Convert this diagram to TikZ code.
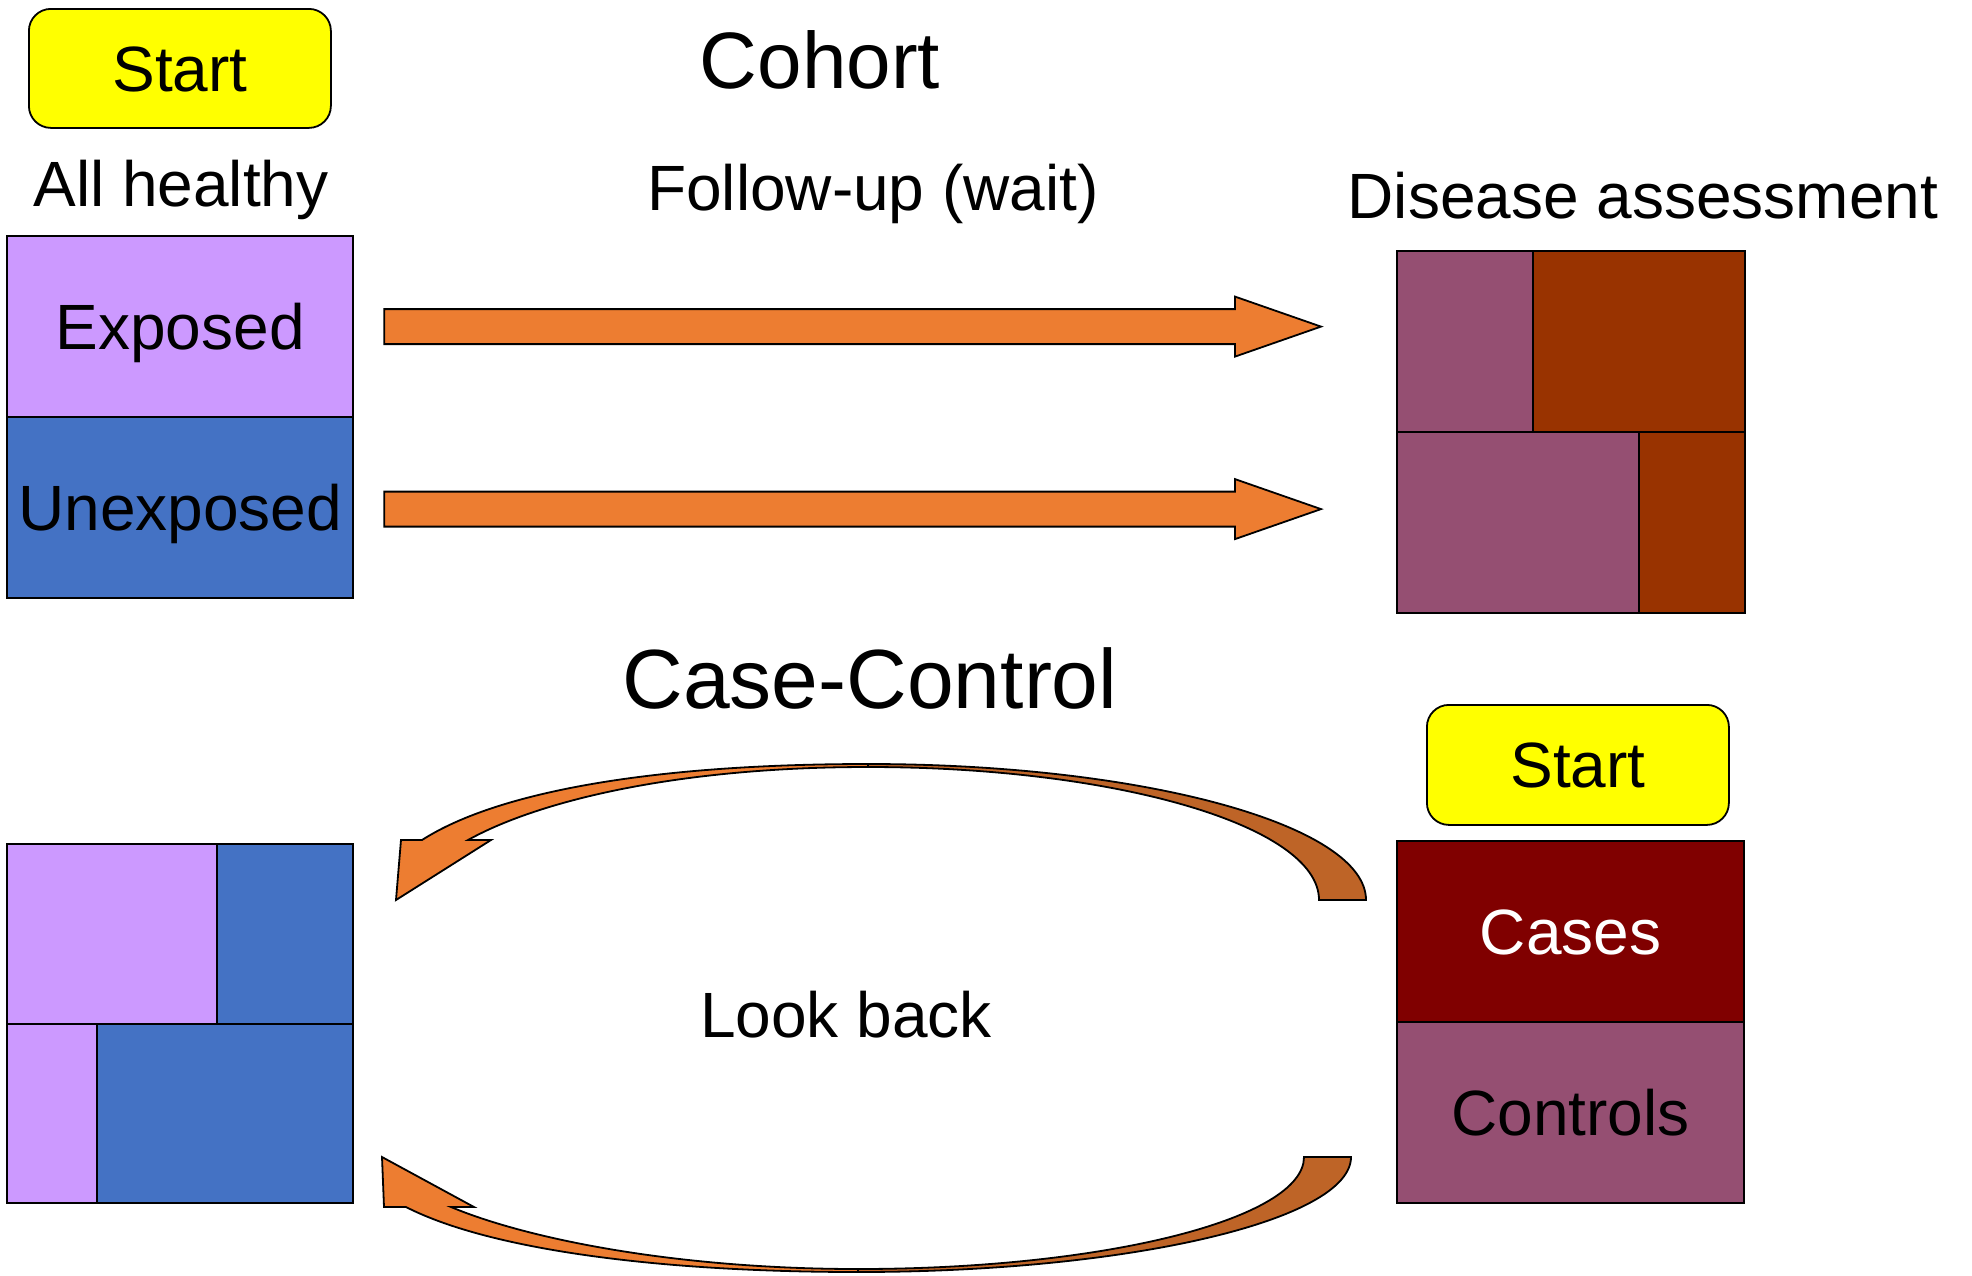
\documentclass[tikz,border=0pt]{standalone}
\usepackage{fontspec}
\setmainfont{Liberation Sans}
\usetikzlibrary{calc}
\definecolor{lilac}{HTML}{CC99FF}
\definecolor{blueU}{HTML}{4472C4}
\definecolor{mauve}{HTML}{954F72}
\definecolor{rust}{HTML}{993300}
\definecolor{darkred}{HTML}{800000}
\definecolor{arrowor}{HTML}{ED7D31}
\definecolor{arrowdk}{HTML}{BE6427}
\definecolor{startyellow}{HTML}{FFFF00}
\begin{document}
\begin{tikzpicture}[x=1pt,y=-1pt,
  box/.style={draw=black, line width=2.2pt, inner sep=0pt, anchor=north west},
  startbox/.style={draw=black, fill=startyellow, line width=1.8pt, rounded corners=22pt, inner sep=0pt, anchor=north west},
  lbl/.style={inner sep=0pt, anchor=base, font=\fontsize{64}{70}\selectfont},
  titlelbl/.style={inner sep=0pt, anchor=base, font=\fontsize{82}{90}\selectfont},
  blockarrow/.style={fill=arrowor, draw=black, line width=1.8pt, line join=miter,
    to path={($(\tikztostart)+(0,-17.5)$) -- ($(\tikztotarget)+(-86,-17.5)$)
      -- ($(\tikztotarget)+(-86,-30)$) -- (\tikztotarget) -- ($(\tikztotarget)+(-86,30)$)
      -- ($(\tikztotarget)+(-86,17.5)$) -- ($(\tikztostart)+(0,17.5)$) -- cycle}},
  curvlt/.style={fill=arrowor, draw=black, line width=1.8pt, line join=miter},
  curvdk/.style={fill=arrowdk, draw=black, line width=1.8pt, line join=miter},
]
\useasboundingbox (0,0) rectangle (1972,1275);

% ---------- Cohort ----------
\node[startbox, minimum width=302pt, minimum height=119pt] (start1) at (28,8) {};
\node[lbl] (start1t) at ([yshift=-23pt]start1.center) {Start};
\node[lbl] (healthy) at (181,206) {All healthy};
\node[box, fill=lilac, minimum width=346pt, minimum height=181pt] (exp) at (6,235) {};
\node[box, fill=blueU, minimum width=346pt, minimum height=181pt] (unexp) at (6,416) {};
\node[lbl] (expt) at ([yshift=-23pt]exp.center) {Exposed};
\node[lbl] (unexpt) at ([yshift=-23pt]unexp.center) {Unexposed};

\node[titlelbl, font=\fontsize{80}{88}\selectfont] (cohort) at (820,88) {Cohort};
\node[lbl] (follow) at (873,210) {Follow-up (wait)};
\node[lbl] (disease) at (1643,218) {Disease assessment};

\node[box, fill=mauve, minimum width=136pt, minimum height=181pt] (d11) at (1396,250) {};
\node[box, fill=rust, minimum width=212pt, minimum height=181pt] (d12) at (1532,250) {};
\node[box, fill=mauve, minimum width=242pt, minimum height=181pt] (d21) at (1396,431) {};
\node[box, fill=rust, minimum width=106pt, minimum height=181pt] (d22) at (1638,431) {};

\coordinate (a1from) at ([xshift=30pt]exp.east);
\coordinate (a1to) at ([xshift=-75pt]exp.east -| d11.west);
\coordinate (a2from) at ([xshift=30pt, yshift=-1.5pt]unexp.east);
\coordinate (a2to) at ([xshift=-75pt, yshift=-1.5pt]unexp.east -| d11.west);
\draw[blockarrow] (a1from) to (a1to);
\draw[blockarrow] (a2from) to (a2to);

% ---------- Case-Control ----------
\node[titlelbl, font=\fontsize{84}{92}\selectfont] (cc) at (870,708) {Case-Control};

\node[box, fill=lilac, minimum width=210pt, minimum height=180pt] (e11) at (6,843) {};
\node[box, fill=blueU, minimum width=136pt, minimum height=180pt] (e12) at (216,843) {};
\node[box, fill=lilac, minimum width=90pt, minimum height=179pt] (e21) at (6,1023) {};
\node[box, fill=blueU, minimum width=256pt, minimum height=179pt] (e22) at (96,1023) {};

\node[startbox, minimum width=302pt, minimum height=120pt] (start2) at (1426,704) {};
\node[lbl] (start2t) at ([yshift=-23pt]start2.center) {Start};
\node[box, fill=darkred, minimum width=347pt, minimum height=181pt] (cases) at (1396,840) {};
\node[box, fill=mauve, minimum width=347pt, minimum height=181pt] (controls) at (1396,1021) {};
\node[lbl, text=white] (casest) at ([yshift=-23pt]cases.center) {Cases};
\node[lbl] (controlst) at ([yshift=-23pt]controls.center) {Controls};

\node[lbl] (look) at (846,1037) {Look back};

% upper curved arrow
\draw[curvdk] (868,764) .. controls (1143,764) and (1366,825) .. (1366,900)
  -- (1319,900) .. controls (1319,826) and (1117,767) .. (868,767) -- cycle;
\draw[curvlt] (868,764) .. controls (660,764) and (500,790) .. (422,840)
  -- (401,840) -- (396,900) -- (491,840) -- (468,840)
  .. controls (540,800) and (680,767) .. (868,767) -- cycle;

% lower curved arrow
\draw[curvdk] (1351,1157) .. controls (1351,1220) and (1130,1272) .. (858,1272)
  -- (858,1269) .. controls (1104,1269) and (1304,1219) .. (1304,1157) -- cycle;
\draw[curvlt] (858,1272) .. controls (660,1272) and (490,1250) .. (406,1207)
  -- (384,1207) -- (382,1157) -- (474,1207) -- (451,1207)
  .. controls (530,1240) and (680,1269) .. (858,1269) -- cycle;
\end{tikzpicture}
\end{document}
